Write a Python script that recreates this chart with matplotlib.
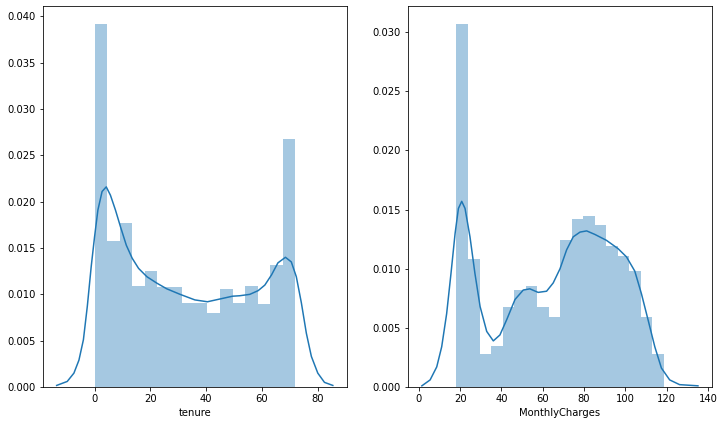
import numpy as np
import matplotlib.pyplot as plt

# Histogram bins (edges) and densities
tenure_edges = np.linspace(0, 72, 17)
tenure_heights = [0.0392, 0.0158, 0.0177, 0.0109, 0.0125, 0.0108, 0.0108, 0.0091,
                  0.0091, 0.0080, 0.0106, 0.0091, 0.0109, 0.0090, 0.0132, 0.0268]

charges_edges = np.linspace(18.25, 118.75, 19)
charges_heights = [0.0307, 0.0108, 0.0028, 0.0035, 0.0068, 0.0082, 0.0085, 0.0068,
                   0.0059, 0.0124, 0.0142, 0.0145, 0.0137, 0.0119, 0.0111, 0.0098,
                   0.0059, 0.0028]

# KDE curves, points
tenure_kde_x = [-13.6, -9.8, -7.4, -5.6, -4.0, -2.6, -1.2, 0.0, 1.2, 2.7, 4.2, 5.7,
                7.5, 9.3, 11.4, 13.5, 15.8, 18.8, 22.4, 25.9, 30.7, 36.0, 40.5,
                45.0, 49.5, 52.1, 55.7, 58.7, 61.1, 63.5, 65.8, 68.5, 70.6, 72.4,
                74.2, 76.0, 77.8, 80.1, 82.5, 85.5]
tenure_kde_y = [0.00017, 0.0006, 0.0015, 0.0029, 0.0051, 0.0087, 0.0130, 0.0162,
                0.0191, 0.0211, 0.0216, 0.0207, 0.0191, 0.0173, 0.0153, 0.0139,
                0.0128, 0.0119, 0.0112, 0.0106, 0.0100, 0.0094, 0.0092, 0.0095,
                0.0098, 0.00985, 0.0100, 0.0104, 0.0110, 0.0121, 0.0134, 0.0140,
                0.0135, 0.0119, 0.0091, 0.0058, 0.0033, 0.0015, 0.0005, 0.00017]

charges_kde_x = [1.5, 5.5, 8.7, 11.1, 13.5, 15.6, 17.6, 19.2, 20.8, 22.4, 24.8, 27.2,
                 29.7, 32.9, 36.1, 39.3, 42.6, 46.6, 50.6, 53.8, 57.8, 61.9, 65.1,
                 68.4, 71.6, 74.8, 78.1, 81.3, 85.3, 90.9, 96.5, 100.6, 104.6,
                 107.8, 111.0, 114.3, 117.5, 121.5, 126.3, 135.2]
charges_kde_y = [0.0001, 0.0006, 0.0017, 0.0034, 0.0062, 0.0096, 0.0130, 0.0151,
                 0.0157, 0.0151, 0.0127, 0.0096, 0.0068, 0.0047, 0.0039, 0.0044,
                 0.0057, 0.0074, 0.0082, 0.0083, 0.0080, 0.0081, 0.0088, 0.0100,
                 0.0116, 0.0127, 0.0131, 0.0132, 0.0129, 0.0124, 0.0117, 0.0110,
                 0.0098, 0.0079, 0.0057, 0.0034, 0.0016, 0.0006, 0.0002, 0.0001]

color = '#1f77b4'
fig = plt.figure(figsize=(725 / 72, 425 / 72), dpi=72)
ax1 = fig.add_axes([0.0593, 0.0894, 0.419, 0.896])
ax2 = fig.add_axes([0.5628, 0.0894, 0.419, 0.896])


def draw(ax, edges, heights, kx, ky, label):
    ax.bar(edges[:-1], heights, width=np.diff(edges), align='edge',
           color=color, alpha=0.4, linewidth=0)
    ax.plot(kx, ky, color=color, linewidth=1.5)
    ax.set_xlabel(label, fontsize=10)
    ax.tick_params(labelsize=10)


draw(ax1, tenure_edges, tenure_heights, tenure_kde_x, tenure_kde_y, 'tenure')
ax1.set_xlim(-18.5, 90.5)
ax1.set_ylim(0, 0.0411)
ax1.set_yticks(np.arange(0, 0.0401, 0.005))

draw(ax2, charges_edges, charges_heights, charges_kde_x, charges_kde_y, 'MonthlyCharges')
ax2.set_xlim(-5.2, 141.9)
ax2.set_ylim(0, 0.0322)
ax2.set_yticks(np.arange(0, 0.0301, 0.005))

fig.savefig('out.png', dpi=72)
